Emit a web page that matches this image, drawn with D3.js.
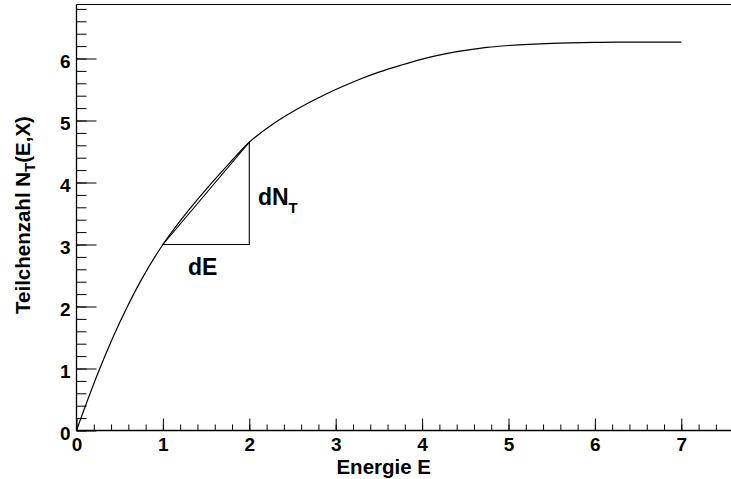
<!DOCTYPE html>
<html>
<head>
<meta charset="utf-8">
<script src="https://cdn.jsdelivr.net/npm/d3@7/dist/d3.min.js"></script>
<style>
  html, body { margin: 0; padding: 0; background: #fff; }
  svg { display: block; }
  text { font-family: "Liberation Sans", Arial, Helvetica, sans-serif; font-weight: bold; fill: #000; }
</style>
</head>
<body>
<svg id="chart" width="731" height="479"></svg>
<script>
// ---- data ----
const energy = [0, 0.25, 0.5, 0.75, 1.0, 1.25, 1.5, 1.75, 2.0, 2.25, 2.5, 2.75, 3.0, 3.25, 3.5, 3.75, 4.0, 4.25, 4.5, 4.75, 5.0, 5.5, 6.0, 6.5, 7.0];
const particles = [0, 0.93, 1.74, 2.43, 3.0, 3.47, 3.89, 4.28, 4.65, 4.92, 5.14, 5.33, 5.5, 5.65, 5.78, 5.89, 5.99, 6.07, 6.13, 6.18, 6.21, 6.245, 6.26, 6.265, 6.265];
const xTickLabels = ["0", "1", "2", "3", "4", "5", "6", "7"];
const yTickLabels = ["0", "1", "2", "3", "4", "5", "6"];
const chordStart = [1, 3];
const chordEnd = [2, 4.65];
const xTitle = "Energie E";
const yTitle = "Teilchenzahl N";
const yTitleSub = "T";
const yTitleTail = "(E,X)";

// ---- layout ----
const svg = d3.select("#chart");
const padL = 76.5, padR = 731, padT = 4.5, padB = 430.5;
const xMax = (padR - padL) / 86.4;
const yMax = (padB - padT) / 62;
const x = d3.scaleLinear().domain([0, xMax]).range([padL, padR]);
const y = d3.scaleLinear().domain([0, yMax]).range([padB, padT]);

// frame top
svg.append("line").attr("x1", padL).attr("x2", padR + 5).attr("y1", padT).attr("y2", padT)
  .attr("stroke", "#000").attr("stroke-width", 1.2);

// x axis
const xMinor = d3.range(0, xMax + 1e-9, 0.2);
const xAxisMinor = d3.axisBottom(x).tickValues(xMinor).tickSize(-6).tickFormat("");
const xAxisMajor = d3.axisBottom(x).tickValues(xTickLabels.map(Number)).tickSize(-12)
  .tickFormat((d, i) => xTickLabels[i]).tickPadding(7);
const gxm = svg.append("g").attr("transform", `translate(0,${padB})`).call(xAxisMinor);
const gx = svg.append("g").attr("transform", `translate(0,${padB})`).call(xAxisMajor);
[gxm, gx].forEach(g => {
  g.select(".domain").remove();
  g.selectAll("line").attr("stroke", "#000").attr("stroke-width", 1);
});
gx.selectAll("text").attr("font-size", 19).attr("dy", "0.95em").attr("y", 2.5);
svg.append("line").attr("x1", padL).attr("x2", padR + 5).attr("y1", padB).attr("y2", padB)
  .attr("stroke", "#000").attr("stroke-width", 1.3);

// y axis
const yMinor = d3.range(0, yMax + 1e-9, 0.2);
const yAxisMinor = d3.axisLeft(y).tickValues(yMinor).tickSize(-10).tickFormat("");
const yAxisMajor = d3.axisLeft(y).tickValues(yTickLabels.map(Number)).tickSize(-20)
  .tickFormat((d, i) => yTickLabels[i]).tickPadding(4);
const gym = svg.append("g").attr("transform", `translate(${padL},0)`).call(yAxisMinor);
const gy = svg.append("g").attr("transform", `translate(${padL},0)`).call(yAxisMajor);
[gym, gy].forEach(g => {
  g.select(".domain").remove();
  g.selectAll("line").attr("stroke", "#000").attr("stroke-width", 1);
});
gy.selectAll("text").attr("font-size", 19).attr("x", -6).attr("dy", "0.45em");
svg.append("line").attr("x1", padL).attr("x2", padL).attr("y1", padT).attr("y2", padB)
  .attr("stroke", "#000").attr("stroke-width", 1.3);

// curve
const pts = energy.map((e, i) => [e, particles[i]]);
svg.append("path").datum(pts)
  .attr("d", d3.line().x(d => x(d[0])).y(d => y(d[1])).curve(d3.curveCatmullRom.alpha(0.5)))
  .attr("fill", "none").attr("stroke", "#000").attr("stroke-width", 1.2);

// chord triangle
const tri = [chordStart, chordEnd, [chordEnd[0], chordStart[1]], chordStart];
svg.append("path").datum(tri)
  .attr("d", d3.line().x(d => x(d[0])).y(d => y(d[1])))
  .attr("fill", "none").attr("stroke", "#000").attr("stroke-width", 1.1);

// annotations
svg.append("text").attr("x", x(1.29)).attr("y", y(2.51)).attr("font-size", 23).text("dE");
const dn = svg.append("text").attr("x", x(2.1)).attr("y", y(3.64)).attr("font-size", 23);
dn.append("tspan").text("dN");
dn.append("tspan").attr("font-size", 15).attr("dy", 8).text("T");

// titles
svg.append("text").attr("x", 431).attr("y", 474).attr("text-anchor", "end")
  .attr("font-size", 20.5).text(xTitle);
const yt = svg.append("text").attr("transform", `translate(30,215) rotate(-90)`)
  .attr("text-anchor", "middle").attr("font-size", 20.5);
yt.append("tspan").text(yTitle);
yt.append("tspan").attr("font-size", 15).attr("dy", 5).text(yTitleSub);
yt.append("tspan").attr("dy", -5).text(yTitleTail);
</script>
</body>
</html>
